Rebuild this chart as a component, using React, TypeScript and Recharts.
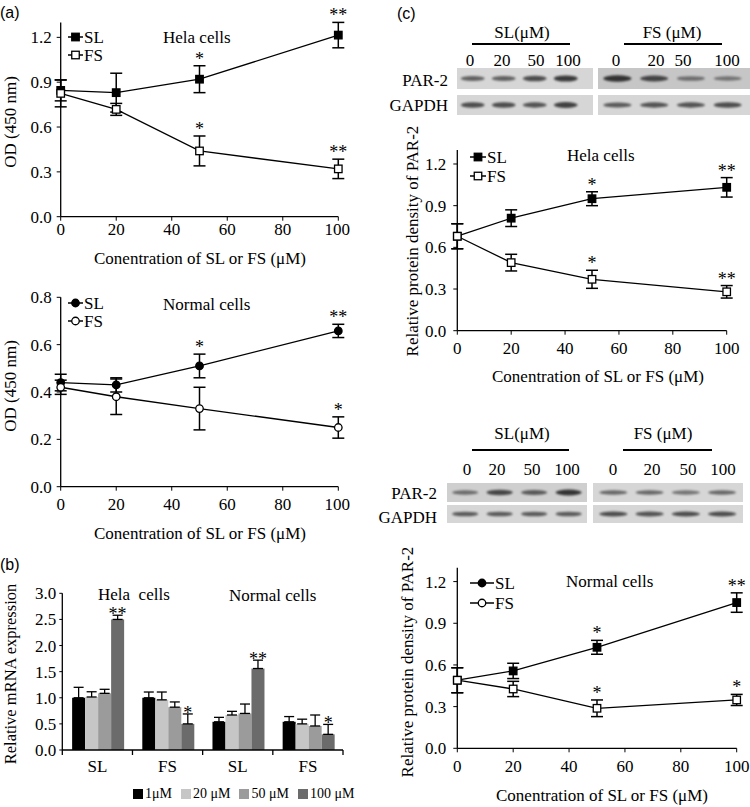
import React from "react";
import { LineChart, Line, XAxis, YAxis, ErrorBar, BarChart, Bar } from "recharts";

const SERIF = "'Liberation Serif', 'Times New Roman', serif";
const SANS = "'Liberation Sans', Arial, sans-serif";

// concentrations (µM)
const conc = [0, 20, 50, 100];
const concTicks = [0, 20, 40, 60, 80, 100];

// (a) OD 450 nm, Hela cells
const aHelaSL = [0.845, 0.83, 0.92, 1.215];
const aHelaSLErr = [0.07, 0.13, 0.09, 0.085];
const aHelaSLSig = ["", "", "*", "**"];
const aHelaFS = [0.825, 0.718, 0.44, 0.32];
const aHelaFSErr = [0.09, 0.04, 0.1, 0.065];
const aHelaFSSig = ["", "", "*", "**"];

// (a) OD 450 nm, normal cells
const aNormSL = [0.44, 0.43, 0.51, 0.658];
const aNormSLErr = [0.035, 0.03, 0.05, 0.028];
const aNormSLSig = ["", "", "*", "**"];
const aNormFS = [0.42, 0.38, 0.33, 0.25];
const aNormFSErr = [0.03, 0.075, 0.09, 0.045];
const aNormFSSig = ["", "", "", "*"];

// (b) relative mRNA expression
const bCells = ["Hela", "Hela", "Normal", "Normal"];
const bGroups = ["SL", "FS", "SL", "FS"];
const bDoses = ["1μM", "20 μM", "50 μM", "100 μM"];
const bColors = ["#000000", "#c6c6c6", "#9b9b9b", "#6b6b6b"];
const b1 = [1.0, 1.0, 0.54, 0.54];
const b20 = [1.015, 0.96, 0.67, 0.5];
const b50 = [1.085, 0.82, 0.7, 0.46];
const b100 = [2.5, 0.5, 1.56, 0.3];
const b1Err = [0.2, 0.11, 0.085, 0.1];
const b20Err = [0.1, 0.15, 0.07, 0.09];
const b50Err = [0.077, 0.1, 0.18, 0.21];
const b100Err = [0.08, 0.19, 0.16, 0.19];
const b100Sig = ["**", "*", "**", "*"];

// (c) relative protein density of PAR-2
const cHelaSL = [0.68, 0.81, 0.95, 1.032];
const cHelaSLErr = [0.09, 0.06, 0.05, 0.07];
const cHelaSLSig = ["", "", "*", "**"];
const cHelaFS = [0.68, 0.49, 0.37, 0.28];
const cHelaFSErr = [0.09, 0.06, 0.065, 0.045];
const cHelaFSSig = ["", "", "*", "**"];
const cNormSL = [0.49, 0.557, 0.727, 1.049];
const cNormSLErr = [0.09, 0.055, 0.05, 0.07];
const cNormSLSig = ["", "", "*", "**"];
const cNormFS = [0.49, 0.427, 0.288, 0.348];
const cNormFSErr = [0.09, 0.055, 0.06, 0.04];
const cNormFSSig = ["", "", "*", "*"];

// western blot band intensities (0..1)
const lanes = ["0", "20", "50", "100"];
const helaPar2SL = [0.55, 0.55, 0.7, 0.85];
const helaPar2FS = [0.9, 0.75, 0.4, 0.35];
const helaGapdhSL = [0.7, 0.7, 0.65, 0.8];
const helaGapdhFS = [0.6, 0.65, 0.65, 0.7];
const normPar2SL = [0.45, 0.75, 0.6, 0.9];
const normPar2FS = [0.5, 0.5, 0.4, 0.5];
const normGapdhSL = [0.6, 0.6, 0.6, 0.6];
const normGapdhFS = [0.7, 0.65, 0.7, 0.7];

type Kind = "fsq" | "osq" | "fci" | "oci";

function Marker({ kind, cx, cy, s = 7.5 }: { kind: Kind; cx: number; cy: number; s?: number }) {
  const fill = kind === "fsq" || kind === "fci" ? "#000" : "#fff";
  if (kind === "fsq" || kind === "osq")
    return <rect x={cx - s / 2} y={cy - s / 2} width={s} height={s} fill={fill} stroke="#000" strokeWidth={1.3} />;
  return <circle cx={cx} cy={cy} r={s / 2} fill={fill} stroke="#000" strokeWidth={1.3} />;
}

function T({ x, y, children, anchor = "start", size = 17, rotate = false, font = SERIF }: any) {
  const tx = anchor === "start" ? "0" : anchor === "middle" ? "-50%" : "-100%";
  return (
    <div
      style={{
        position: "absolute",
        left: x,
        top: y,
        transform: rotate ? "translate(-50%,-50%) rotate(-90deg)" : `translate(${tx},-50%)`,
        whiteSpace: "pre",
        fontSize: size,
        fontFamily: font,
        lineHeight: 1,
        color: "#000",
      }}
    >
      {children}
    </div>
  );
}

function LegendItem({ x, y, w, kind, label }: { x: number; y: number; w: number; kind: Kind; label: string }) {
  return (
    <div style={{ position: "absolute", left: x, top: y - 8, height: 16, display: "flex", alignItems: "center" }}>
      <svg width={w} height={16}>
        <line x1={0} y1={8} x2={w} y2={8} stroke="#000" strokeWidth={1.5} />
        <Marker kind={kind} cx={w / 2} cy={8} />
      </svg>
      <span style={{ fontFamily: SERIF, fontSize: 17, marginLeft: 1, lineHeight: 1 }}>{label}</span>
    </div>
  );
}

interface Series {
  values: number[];
  err: number[];
  sig: string[];
  kind: Kind;
}

interface PanelProps {
  left: number;
  top: number;
  width: number;
  height: number;
  yw: number;
  mt: number;
  mr: number;
  xh: number;
  yMax: number;
  yTicks: number[];
  xtm: number;
  ytm: number;
  sl: Series;
  fs: Series;
}

const tickStyle = { fill: "#000", fontSize: 17, fontFamily: SERIF };
const axisStyle = { stroke: "#000", strokeWidth: 1.3 };

function LinePanel(p: PanelProps) {
  const ppu = (p.height - p.mt - p.xh) / p.yMax;
  const data = conc.map((c, i) => ({
    c,
    sl: p.sl.values[i],
    slErr: p.sl.err[i],
    fs: p.fs.values[i],
    fsErr: p.fs.err[i],
  }));
  const dot = (s: Series) => (d: any) => {
    const sig = s.sig[d.index];
    return (
      <g key={`d${d.index}`}>
        <Marker kind={s.kind} cx={d.cx} cy={d.cy} />
        {sig ? (
          <text x={d.cx} y={d.cy - s.err[d.index] * ppu - 1} textAnchor="middle" fontSize={18} fontFamily={SERIF} fill="#000">
            {sig}
          </text>
        ) : null}
      </g>
    );
  };
  return (
    <div style={{ position: "absolute", left: p.left, top: p.top, width: p.width, height: p.height }}>
      <LineChart width={p.width} height={p.height} data={data} margin={{ top: p.mt, right: p.mr, left: 0, bottom: 0 }}>
        <XAxis
          dataKey="c"
          type="number"
          domain={[0, 100]}
          ticks={concTicks}
          height={p.xh}
          tickSize={4}
          tickMargin={p.xtm}
          axisLine={axisStyle}
          tickLine={{ stroke: "#000" }}
          tick={tickStyle}
        />
        <YAxis
          width={p.yw}
          domain={[0, p.yMax]}
          ticks={p.yTicks}
          tickFormatter={(v: number) => v.toFixed(1)}
          tickSize={4}
          tickMargin={p.ytm}
          axisLine={axisStyle}
          tickLine={{ stroke: "#000" }}
          tick={tickStyle}
        />
        <Line dataKey="sl" type="linear" stroke="#000" strokeWidth={1.3} dot={dot(p.sl)} activeDot={false} isAnimationActive={false}>
          <ErrorBar dataKey="slErr" width={6} stroke="#000" strokeWidth={1.5} direction="y" />
        </Line>
        <Line dataKey="fs" type="linear" stroke="#000" strokeWidth={1.3} dot={dot(p.fs)} activeDot={false} isAnimationActive={false}>
          <ErrorBar dataKey="fsErr" width={6} stroke="#000" strokeWidth={1.5} direction="y" />
        </Line>
      </LineChart>
    </div>
  );
}

function Band(props: any) {
  const { x, width, payload, stripH } = props;
  const v = payload.v;
  return (
    <ellipse
      cx={x + width / 2}
      cy={stripH / 2}
      rx={width / 2}
      ry={stripH * 0.08 + v * stripH * 0.08}
      fill="#1e1e1e"
      opacity={0.25 + 0.7 * v}
      style={{ filter: "blur(1px)" }}
    />
  );
}

function Strip({ left, top, width, height, values, ml, mr, bg = "#d6d6d6" }: any) {
  const data = lanes.map((l, i) => ({ lane: l, v: values[i] }));
  return (
    <div style={{ position: "absolute", left, top, width, height, background: bg }}>
      <BarChart width={width} height={height} data={data} margin={{ top: 0, bottom: 0, left: ml, right: mr }} barCategoryGap="12%">
        <XAxis dataKey="lane" hide />
        <YAxis hide domain={[0, 1]} />
        <Bar dataKey="v" isAnimationActive={false} shape={(sp: any) => <Band {...sp} stripH={height} />} />
      </BarChart>
    </div>
  );
}

function Hline({ x1, x2, y }: { x1: number; x2: number; y: number }) {
  return <div style={{ position: "absolute", left: x1, top: y - 0.75, width: x2 - x1, height: 1.5, background: "#000" }} />;
}

// (b) layout
const bW = 350;
const bH = 210;
const bYW = 62.3;
const bMR = 7;
const bCatW = (bW - bYW - bMR) / bGroups.length;

function BTick(props: any) {
  const { x, y, index } = props;
  const half = bCatW / 2;
  return (
    <g>
      <line x1={x - half} y1={y} x2={x - half} y2={y + 5} stroke="#000" strokeWidth={1.3} />
      {index === bGroups.length - 1 ? <line x1={x + half} y1={y} x2={x + half} y2={y + 5} stroke="#000" strokeWidth={1.3} /> : null}
      <text x={x} y={y + 16} textAnchor="middle" dominantBaseline="central" fontSize={17} fontFamily={SERIF} fill="#000">
        {bGroups[index]}
      </text>
    </g>
  );
}

function BarPanel() {
  const vals = [b1, b20, b50, b100];
  const errs = [b1Err, b20Err, b50Err, b100Err];
  const data = bGroups.map((g, i) => {
    const row: any = { key: `${bCells[i]} ${g}` };
    vals.forEach((arr, j) => {
      row[`v${j}`] = arr[i];
      row[`e${j}`] = [0, errs[j][i]];
    });
    return row;
  });
  return (
    <div style={{ position: "absolute", left: 0, top: 570, width: bW, height: bH }}>
      <BarChart width={bW} height={bH} data={data} margin={{ top: 23.3, right: bMR, left: 0, bottom: 0 }} barCategoryGap="14%" barGap={0}>
        <XAxis
          dataKey="key"
          height={30}
          tickSize={0}
          tickMargin={0}
          tickLine={false}
          interval={0}
          axisLine={axisStyle}
          tick={(tp: any) => <BTick {...tp} />}
        />
        <YAxis
          width={bYW}
          domain={[0, 3]}
          ticks={[0, 0.5, 1, 1.5, 2, 2.5, 3]}
          tickFormatter={(v: number) => v.toFixed(1)}
          tickSize={3}
          tickMargin={3}
          axisLine={axisStyle}
          tickLine={{ stroke: "#000" }}
          tick={tickStyle}
        />
        {bDoses.map((d, j) => (
          <Bar
            key={d}
            dataKey={`v${j}`}
            fill={bColors[j]}
            isAnimationActive={false}
            shape={(sp: any) => {
              const v = sp.payload[`v${j}`];
              const ppu = sp.height / v;
              const sig = j === 3 ? b100Sig[sp.index] : "";
              return (
                <g>
                  <rect x={sp.x} y={sp.y} width={sp.width} height={sp.height} fill={bColors[j]} />
                  {sig ? (
                    <text x={sp.x + sp.width / 2} y={sp.y - errs[j][sp.index] * ppu + 5} textAnchor="middle" fontSize={18} fontFamily={SERIF} fill="#000">
                      {sig}
                    </text>
                  ) : null}
                </g>
              );
            }}
          >
            <ErrorBar dataKey={`e${j}`} width={5} stroke="#000" strokeWidth={1.3} direction="y" />
          </Bar>
        ))}
      </BarChart>
    </div>
  );
}

function BarLegend() {
  return (
    <div style={{ position: "absolute", left: 133, top: 787, display: "flex", alignItems: "center", height: 14 }}>
      {bDoses.map((d, j) => (
        <div key={d} style={{ display: "flex", alignItems: "center", marginRight: 9 }}>
          <div style={{ width: 10, height: 10, background: bColors[j], marginRight: 2 }} />
          <span style={{ fontFamily: SERIF, fontSize: 14, lineHeight: 1 }}>{d}</span>
        </div>
      ))}
    </div>
  );
}

const xTitle = "Conentration of SL or FS (μM)";

export default function App() {
  const sq = (values: number[], err: number[], sig: string[], filled: boolean): Series => ({ values, err, sig, kind: filled ? "fsq" : "osq" });
  const ci = (values: number[], err: number[], sig: string[], filled: boolean): Series => ({ values, err, sig, kind: filled ? "fci" : "oci" });
  return (
    <div style={{ position: "absolute", left: 0, top: 0, width: 750, height: 807, background: "#fff", overflow: "hidden", fontFamily: SERIF }}>
      {/* (a) */}
      <T x={0} y={13} font={SANS} size={16}>(a)</T>
      <LinePanel
        left={0} top={0} width={350} height={250} yw={60.7} mt={22.4} mr={11.7} xh={33.3}
        yMax={1.3} yTicks={[0, 0.3, 0.6, 0.9, 1.2]} xtm={2} ytm={5}
        sl={sq(aHelaSL, aHelaSLErr, aHelaSLSig, true)} fs={sq(aHelaFS, aHelaFSErr, aHelaFSSig, false)}
      />
      <LegendItem x={68} y={37} w={15} kind="fsq" label="SL" />
      <LegendItem x={68} y={55} w={15} kind="osq" label="FS" />
      <T x={163} y={37}>Hela cells</T>
      <T x={10} y={122} rotate>OD (450 nm)</T>
      <T x={200} y={258} anchor="middle">{xTitle}</T>

      <LinePanel
        left={0} top={270} width={350} height={250} yw={60.7} mt={27.3} mr={11.7} xh={33.3}
        yMax={0.8} yTicks={[0, 0.2, 0.4, 0.6, 0.8]} xtm={7} ytm={5}
        sl={ci(aNormSL, aNormSLErr, aNormSLSig, true)} fs={ci(aNormFS, aNormFSErr, aNormFSSig, false)}
      />
      <LegendItem x={68} y={303} w={15} kind="fci" label="SL" />
      <LegendItem x={68} y={321} w={15} kind="oci" label="FS" />
      <T x={163} y={304}>Normal cells</T>
      <T x={10} y={386} rotate>OD (450 nm)</T>
      <T x={200} y={533} anchor="middle">{xTitle}</T>

      {/* (b) */}
      <T x={0} y={565} font={SANS} size={16}>(b)</T>
      <BarPanel />
      <T x={98} y={594}>{"Hela  cells"}</T>
      <T x={229} y={595}>Normal cells</T>
      <T x={11} y={674} rotate size={16.5}>Relative mRNA expression</T>
      <BarLegend />

      {/* (c) blot, Hela */}
      <T x={397} y={14} font={SANS} size={16}>(c)</T>
      <T x={522} y={32} anchor="middle">SL(μM)</T>
      <T x={672} y={32} anchor="middle">FS (μM)</T>
      <Hline x1={472} x2={570} y={44} />
      <Hline x1={624} x2={722} y={44} />
      {[470, 502, 536, 568].map((x, i) => <T key={`a${i}`} x={x} y={60} anchor="middle">{lanes[i]}</T>)}
      {[616, 656, 683, 727].map((x, i) => <T key={`b${i}`} x={x} y={60} anchor="middle">{lanes[i]}</T>)}
      <T x={448} y={80} anchor="end">PAR-2</T>
      <T x={448} y={105} anchor="end">GAPDH</T>
      <Strip left={457} top={68} width={136} height={21} values={helaPar2SL} ml={0} mr={12} />
      <Strip left={598} top={68} width={152} height={21} values={helaPar2FS} ml={1} mr={4} bg="#c6c6c6" />
      <Strip left={457} top={95} width={136} height={20} values={helaGapdhSL} ml={0} mr={12} />
      <Strip left={598} top={95} width={152} height={20} values={helaGapdhFS} ml={1} mr={4} />

      <LinePanel
        left={380} top={130} width={360} height={240} yw={77.3} mt={20.1} mr={13.3} xh={39.3}
        yMax={1.3} yTicks={[0, 0.3, 0.6, 0.9, 1.2]} xtm={7} ytm={7}
        sl={sq(cHelaSL, cHelaSLErr, cHelaSLSig, true)} fs={sq(cHelaFS, cHelaFSErr, cHelaFSSig, false)}
      />
      <LegendItem x={470} y={157} w={16} kind="fsq" label="SL" />
      <LegendItem x={470} y={176} w={16} kind="osq" label="FS" />
      <T x={567} y={155}>Hela cells</T>
      <T x={412} y={241} rotate>Relative protein density of PAR-2</T>
      <T x={598} y={376} anchor="middle">{xTitle}</T>

      {/* (c) blot, normal */}
      <T x={522} y={433} anchor="middle">SL(μM)</T>
      <T x={663} y={433} anchor="middle">FS (μM)</T>
      <Hline x1={472} x2={569} y={450} />
      <Hline x1={623} x2={712} y={450} />
      {[467, 497, 532, 567].map((x, i) => <T key={`c${i}`} x={x} y={469} anchor="middle">{lanes[i]}</T>)}
      {[613, 652, 688, 723].map((x, i) => <T key={`d${i}`} x={x} y={469} anchor="middle">{lanes[i]}</T>)}
      <T x={437} y={493} anchor="end">PAR-2</T>
      <T x={437} y={517} anchor="end">GAPDH</T>
      <Strip left={447} top={483} width={140} height={19} values={normPar2SL} ml={1} mr={1} bg="#cfcfcf" />
      <Strip left={593} top={483} width={150} height={19} values={normPar2FS} ml={2} mr={3} />
      <Strip left={447} top={505} width={140} height={18} values={normGapdhSL} ml={1} mr={1} />
      <Strip left={593} top={505} width={150} height={18} values={normGapdhFS} ml={2} mr={3} />

      <LinePanel
        left={380} top={550} width={370} height={250} yw={77.3} mt={17.7} mr={13.3} xh={51.7}
        yMax={1.3} yTicks={[0, 0.3, 0.6, 0.9, 1.2]} xtm={8} ytm={7}
        sl={sq(cNormSL, cNormSLErr, cNormSLSig, true)} fs={sq(cNormFS, cNormFSErr, cNormFSSig, false)}
      />
      <LegendItem x={470} y={583} w={24} kind="fci" label="SL" />
      <LegendItem x={470} y={603} w={24} kind="oci" label="FS" />
      <T x={566} y={581}>Normal cells</T>
      <T x={407} y={662} rotate>Relative protein density of PAR-2</T>
      <T x={602} y={795} anchor="middle">{xTitle}</T>
    </div>
  );
}
